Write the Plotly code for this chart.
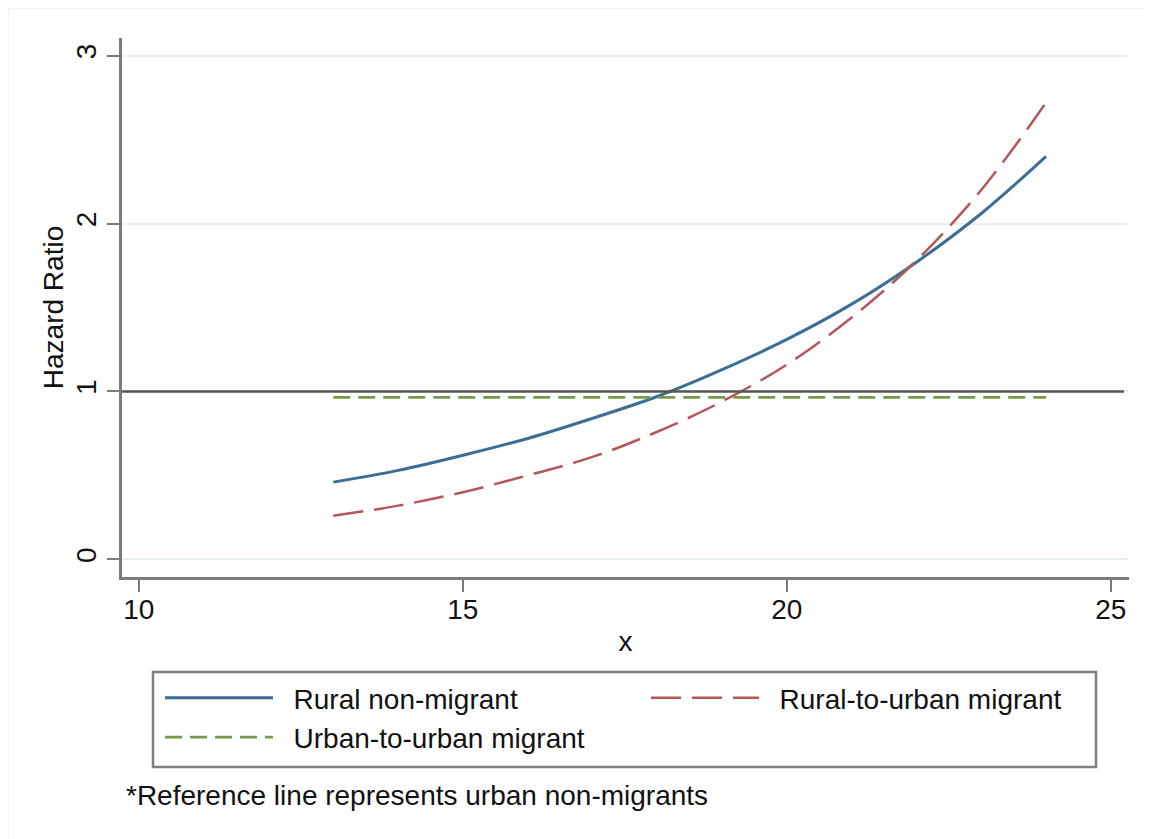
import plotly.graph_objects as go

# ---- data ----
age = [13, 14, 15, 16, 17, 18, 19, 20, 21, 22, 23, 24]
rural_non_migrant = [0.46, 0.53, 0.62, 0.72, 0.84, 0.97, 1.13, 1.31, 1.52, 1.77, 2.06, 2.40]
rural_to_urban = [0.26, 0.32, 0.40, 0.50, 0.61, 0.76, 0.94, 1.16, 1.44, 1.78, 2.20, 2.72]
urban_to_urban = [0.965, 0.965, 0.965, 0.965, 0.965, 0.965, 0.965, 0.965, 0.965, 0.965, 0.965, 0.965]
reference_value = 1.0
x_ticks = [10, 15, 20, 25]
y_ticks = [0, 1, 2, 3]
series_names = ["Rural non-migrant", "Rural-to-urban migrant", "Urban-to-urban migrant"]
footnote = "*Reference line represents urban non-migrants"

FONT = "Liberation Sans, Arial, Helvetica, sans-serif"
FS = 28
AXIS_GRAY = "#7b7b7b"
TXT = "#111111"

# the page body adds an 8px offset, so the figure is sized to fill the window
OFF = 8
W, H = 1154 - OFF, 839 - OFF
L, T = 122 - OFF, 38 - OFF
R = W - (1129 - OFF)
B = H - (577 - OFF)
PW, PH = W - L - R, H - T - B


def px_x(s):
    """screen x pixel -> paper x"""
    return (s - OFF - L) / PW


def px_y(s):
    """screen y pixel -> paper y"""
    return (H - B - (s - OFF)) / PH


fig = go.Figure()
fig.add_trace(go.Scatter(x=age, y=rural_non_migrant, mode="lines", name="&nbsp;&nbsp;" + series_names[0],
                         line=dict(color="#3b6e94", width=3, shape="spline")))
fig.add_trace(go.Scatter(x=age, y=rural_to_urban, mode="lines", name="&nbsp;&nbsp;" + series_names[1],
                         line=dict(color="#b5565c", width=2.5, dash="30px,11px", shape="spline")))
fig.add_trace(go.Scatter(x=age, y=urban_to_urban, mode="lines", name="&nbsp;&nbsp;" + series_names[2],
                         line=dict(color="#779a48", width=2.8, dash="17px,8px")))

shapes = [
    # reference line
    dict(type="line", xref="paper", yref="y", x0=0, x1=px_x(1124), y0=reference_value, y1=reference_value,
         line=dict(color="#555555", width=2.5)),
    # legend box
    dict(type="rect", xref="paper", yref="paper", x0=px_x(153), x1=px_x(1096), y0=px_y(767), y1=px_y(672),
         line=dict(color="#808080", width=2.5)),
    # faint outer frame (top & left)
    dict(type="line", xref="paper", yref="paper", x0=px_x(8), x1=px_x(1154), y0=px_y(8), y1=px_y(8),
         line=dict(color="#eef2f2", width=2)),
    dict(type="line", xref="paper", yref="paper", x0=px_x(8), x1=px_x(8), y0=px_y(8), y1=px_y(839),
         line=dict(color="#eef2f2", width=2)),
]

fig.update_layout(
    width=W, height=H,
    margin=dict(l=L, r=R, t=T, b=B, autoexpand=False),
    paper_bgcolor="white", plot_bgcolor="white",
    font=dict(family=FONT, size=FS, color=TXT),
    shapes=shapes,
    showlegend=True,
    legend=dict(orientation="h", x=px_x(160), y=px_y(673), xanchor="left", yanchor="top",
                entrywidth=363, entrywidthmode="pixels", itemwidth=108,
                bgcolor="rgba(0,0,0,0)", borderwidth=0,
                font=dict(family=FONT, size=FS, color=TXT), traceorder="normal"),
    annotations=[dict(text=footnote, xref="paper", yref="paper", x=px_x(124), y=px_y(795),
                      xanchor="left", yanchor="middle", showarrow=False,
                      font=dict(family=FONT, size=FS, color=TXT))],
)

fig.update_xaxes(range=[9.74, 25.28], tickmode="array", tickvals=x_ticks,
                 ticks="outside", ticklen=12, tickwidth=2, tickcolor=AXIS_GRAY,
                 showline=True, linecolor=AXIS_GRAY, linewidth=2.5,
                 showgrid=False, zeroline=False, ticklabelstandoff=-6,
                 tickfont=dict(size=FS, family=FONT, color=TXT),
                 title=dict(text="x", font=dict(size=FS, family=FONT, color=TXT), standoff=8))
fig.update_yaxes(range=[-0.105, 3.105], tickmode="array", tickvals=y_ticks, tickangle=-90,
                 ticks="outside", ticklen=12, tickwidth=2, tickcolor=AXIS_GRAY,
                 showline=True, linecolor=AXIS_GRAY, linewidth=2.5,
                 showgrid=True, gridcolor="#e9f1f2", gridwidth=2, zeroline=False,
                 tickfont=dict(size=FS, family=FONT, color=TXT),
                 title=dict(text="Hazard Ratio", font=dict(size=FS, family=FONT, color=TXT), standoff=0))

fig.write_html("out.html")
